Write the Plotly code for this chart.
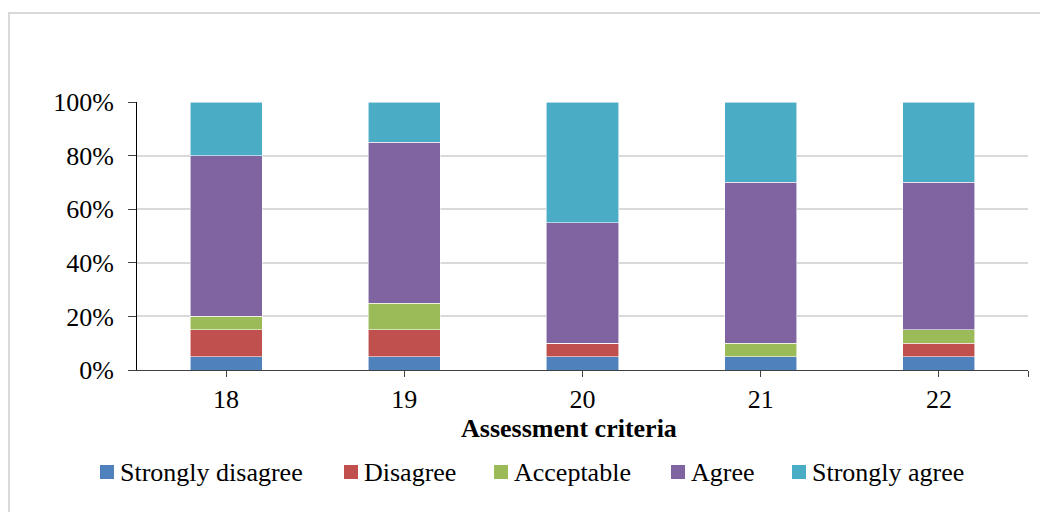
import plotly.graph_objects as go

# Survey responses per assessment criterion (share of respondents)
criteria = ["18", "19", "20", "21", "22"]
series_names = ["Strongly disagree", "Disagree", "Acceptable", "Agree", "Strongly agree"]
strongly_disagree = [0.05, 0.05, 0.05, 0.05, 0.05]
disagree = [0.10, 0.10, 0.05, 0.00, 0.05]
acceptable = [0.05, 0.10, 0.00, 0.05, 0.05]
agree = [0.60, 0.60, 0.45, 0.60, 0.55]
strongly_agree = [0.20, 0.15, 0.45, 0.30, 0.30]
y_tick_values = [0, 0.2, 0.4, 0.6, 0.8, 1.0]

series_values = [strongly_disagree, disagree, acceptable, agree, strongly_agree]
colors = ["#4F81BD", "#C0504D", "#9BBB59", "#8064A2", "#4BACC6"]

FONT = "Liberation Serif, Times New Roman, serif"
W, H = 1040, 512
L, R, T, B = 137, 12, 102, 142
PW, PH = W - L - R, H - T - B


def px_x(px):
    return (px - L) / PW


def px_y(py):
    return (H - B - py) / PH


positions = list(range(len(criteria)))

fig = go.Figure()
for name, vals, col in zip(series_names, series_values, colors):
    fig.add_trace(go.Bar(
        x=positions, y=vals, name=name, width=0.405,
        marker=dict(color=col, line=dict(color="rgba(255,255,255,0.7)", width=0.8)),
        showlegend=False,
    ))

# Legend drawn as colored squares with labels below the axis title
legend_square_px = [100, 344, 494, 671, 792]
shapes = []
annotations = []
for name, col, sx in zip(series_names, colors, legend_square_px):
    shapes.append(dict(type="rect", xref="paper", yref="paper",
                       x0=px_x(sx), x1=px_x(sx + 14), y0=px_y(465), y1=px_y(479),
                       fillcolor=col, line=dict(width=0)))
    annotations.append(dict(xref="paper", yref="paper", x=px_x(sx + 18), y=px_y(472),
                            xanchor="left", yanchor="middle", text=name, showarrow=False,
                            font=dict(family=FONT, size=26, color="#000000")))

# Chart frame
shapes.append(dict(type="rect", xref="paper", yref="paper",
                   x0=px_x(9), x1=px_x(1050), y0=px_y(525), y1=px_y(13),
                   line=dict(color="#d9d9d9", width=2), fillcolor="rgba(0,0,0,0)", layer="below"))

annotations.append(dict(xref="paper", yref="paper", x=px_x(569), y=px_y(428),
                        xanchor="center", yanchor="middle", text="<b>Assessment criteria</b>",
                        showarrow=False, font=dict(family=FONT, size=26, color="#000000")))

fig.update_layout(
    width=W, height=H,
    margin=dict(l=L, r=R, t=T, b=B),
    paper_bgcolor="white", plot_bgcolor="white",
    barmode="stack",
    font=dict(family=FONT, size=26, color="#000000"),
    shapes=shapes,
    annotations=annotations,
    showlegend=False,
)
fig.update_xaxes(
    range=[-0.5, len(criteria) - 0.5],
    tickmode="array",
    tickvals=positions + [len(criteria) - 0.5],
    ticktext=criteria + [""],
    ticks="outside", ticklen=6, tickcolor="#404040", tickwidth=1,
    showline=True, linecolor="#404040", linewidth=1,
    showgrid=False, zeroline=False,
    tickfont=dict(family=FONT, size=26),
)
fig.update_yaxes(
    range=[0, 1],
    tickmode="array", tickvals=y_tick_values, tickformat=".0%",
    ticks="outside", ticklen=8, tickcolor="#404040", tickwidth=1,
    showline=True, linecolor="#000000", linewidth=1,
    showgrid=True, gridcolor="#d9d9d9", gridwidth=1.5,
    zeroline=False,
    tickfont=dict(family=FONT, size=26),
    ticklabelstandoff=9,
)

fig.write_html("out.html")
